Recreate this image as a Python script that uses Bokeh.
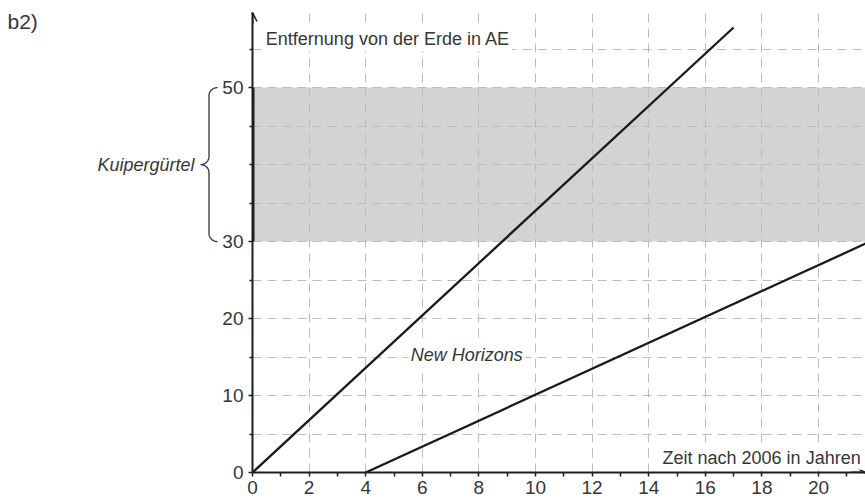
import numpy as np
from bokeh.plotting import figure
from bokeh.layouts import row
from bokeh.models import FixedTicker, Label, Arrow, OpenHead, Range1d
from bokeh.embed import file_html
from bokeh.resources import INLINE

# ---------------- data ----------------
year_ticks = [0, 2, 4, 6, 8, 10, 12, 14, 16, 18, 20]
year_minor = [1, 3, 5, 7, 9, 11, 13, 15, 17, 19, 21]
dist_ticks = [0, 10, 20, 30, 50]
dist_minor = [5, 15, 25, 35, 40, 45, 55]
grid_x = [2, 4, 6, 8, 10, 12, 14, 16, 18, 20]
grid_y = [5, 10, 15, 20, 25, 30, 35, 40, 45, 50, 55]

new_horizons_t = [0, 17]
new_horizons_d = [0, 57.8]
second_t = [4, 22]
second_d = [0, 30.3]

kuiper_lo = 30
kuiper_hi = 50

x_label = "Zeit nach 2006 in Jahren"
y_label = "Entfernung von der Erde in AE"
series_label = "New Horizons"
band_label = "Kuipergürtel"
task_label = "b2)"

# ---------------- layout constants ----------------
H = 501
LEFT_W = 218
MAIN_W = 647
BORDER_L = 34
BORDER_T = 12
BORDER_B = 29
PX_PER_YEAR = 28.3
X_END = (MAIN_W - BORDER_L) / PX_PER_YEAR
Y_END = 59.75
PPU = (H - BORDER_T - BORDER_B) / Y_END

FONT = "Liberation Sans"
TXT = "#363636"
INK = "#1e1e1e"

yr = Range1d(0, Y_END)

# ---------------- main figure ----------------
p = figure(width=MAIN_W, height=H, x_range=(0, X_END), y_range=yr,
           output_backend="svg", toolbar_location=None, title=None,
           min_border_left=BORDER_L, min_border_right=0,
           min_border_top=BORDER_T, min_border_bottom=BORDER_B)
p.outline_line_color = None
p.background_fill_color = "white"
p.border_fill_color = "white"

p.quad(left=[0], right=[X_END + 1], bottom=[kuiper_lo], top=[kuiper_hi],
       fill_color="#d3d3d3", line_color=None, level="image")

p.xgrid.ticker = FixedTicker(ticks=grid_x)
p.ygrid.ticker = FixedTicker(ticks=grid_y)
for g in (p.xgrid[0], p.ygrid[0]):
    g.grid_line_color = "#bcbcbc"
    g.grid_line_width = 1
    g.grid_line_dash = "9 6"

xa = p.xaxis[0]
ya = p.yaxis[0]
xa.ticker = FixedTicker(ticks=year_ticks, minor_ticks=year_minor)
ya.ticker = FixedTicker(ticks=dist_ticks, minor_ticks=dist_minor)
for ax in (xa, ya):
    ax.axis_line_color = INK
    ax.axis_line_width = 2
    ax.major_tick_line_color = INK
    ax.major_tick_line_width = 1.5
    ax.minor_tick_line_color = INK
    ax.minor_tick_line_width = 1.5
    ax.major_tick_in = 0
    ax.minor_tick_in = 0
    ax.major_label_text_font = FONT
    ax.major_label_text_font_size = "19px"
    ax.major_label_text_color = TXT
xa.major_tick_out = 4
xa.minor_tick_out = 4
xa.major_label_standoff = 4
ya.major_tick_out = 4
ya.minor_tick_out = 3
ya.major_label_standoff = 5

p.line(new_horizons_t, new_horizons_d, line_width=2.3, line_color="#1a1a1a")
p.line(second_t, second_d, line_width=2.3, line_color="#1a1a1a")

p.add_layout(Arrow(end=None, x_start=0, y_start=kuiper_lo, x_end=0, y_end=kuiper_hi,
                   line_width=4, line_color=INK))
p.add_layout(Arrow(end=OpenHead(size=9, line_width=1.5, line_color=INK),
                   x_start=0, y_start=Y_END - 1.5, x_end=0, y_end=Y_END,
                   line_width=2, line_color=INK))
p.add_layout(Arrow(end=OpenHead(size=9, line_width=1.5, line_color=INK),
                   x_start=X_END - 0.5, y_start=0, x_end=X_END, y_end=0,
                   line_width=2, line_color=INK))

p.add_layout(Label(x=0.4, y=56.3, text=y_label, text_font=FONT, text_font_size="18px",
                   text_color=TXT, text_baseline="alphabetic",
                   background_fill_color="white", padding=2))
p.add_layout(Label(x=X_END - 0.1, y=1.92, text=x_label, text_font=FONT,
                   text_font_size="18px", text_color=TXT, text_align="right",
                   text_baseline="alphabetic", background_fill_color="white", padding=2))
p.add_layout(Label(x=5.52, y=15.25, text=series_label, text_font=FONT,
                   text_font_size="18px", text_font_style="italic", text_color=TXT,
                   text_baseline="alphabetic", background_fill_color="white", padding=2))

# ---------------- left panel (brace + labels), frame aligned with main ----------------
q = figure(width=LEFT_W, height=H, x_range=Range1d(0, LEFT_W), y_range=yr, title=None,
           output_backend="svg", toolbar_location=None,
           x_axis_type=None, y_axis_type=None,
           min_border_left=0, min_border_right=0,
           min_border_top=BORDER_T, min_border_bottom=BORDER_B)
q.outline_line_color = None
q.background_fill_color = "white"
q.border_fill_color = "white"

xe, xs, xt = 217.0, 208.5, 200.0
ry = 8.0 / PPU
mid = (kuiper_lo + kuiper_hi) / 2
th = np.linspace(np.pi / 2, np.pi, 14)
bx = list(xe + (xe - xs) * np.cos(th)); by = list(kuiper_hi - ry + ry * np.sin(th))
th2 = np.linspace(0, -np.pi / 2, 14)
bx += list(xt + (xs - xt) * np.cos(th2)); by += list(mid + ry + ry * np.sin(th2))
th3 = np.linspace(np.pi / 2, 0, 14)
bx += list(xt + (xs - xt) * np.cos(th3)); by += list(mid - ry + ry * np.sin(th3))
th4 = np.linspace(np.pi, 3 * np.pi / 2, 14)
bx += list(xe + (xe - xs) * np.cos(th4)); by += list(kuiper_lo + ry + ry * np.sin(th4))
q.line(bx, by, line_color="#333333", line_width=1.3)

q.add_layout(Label(x=194, y=mid, text=band_label, text_font=FONT,
                   text_font_size="18px", text_font_style="italic", text_color=TXT,
                   text_align="right", text_baseline="middle"))
q.add_layout(Label(x=7, y=Y_END + 2.7 / PPU, text=task_label, text_font=FONT,
                   text_font_size="21px", text_color=TXT, text_baseline="top"))

layout = row(q, p)
open("out.html", "w").write(file_html(layout, INLINE))
